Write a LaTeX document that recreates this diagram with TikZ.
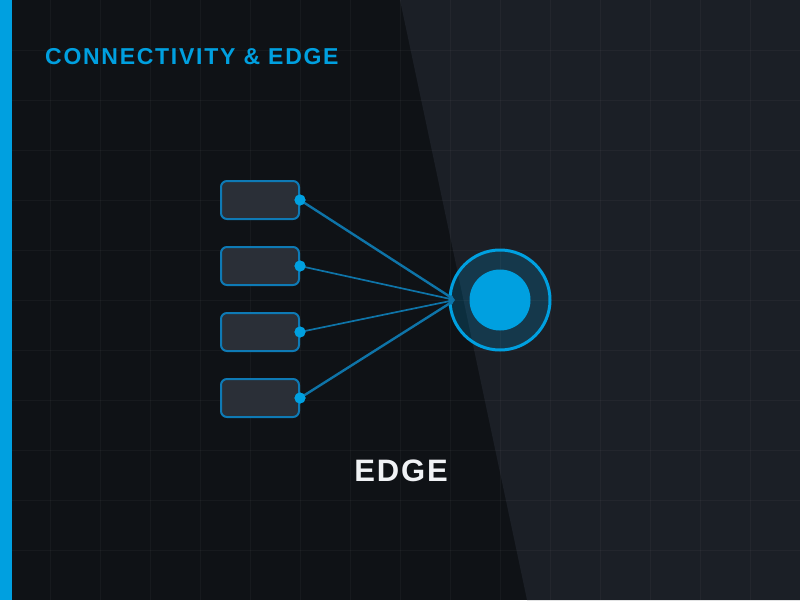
\documentclass[tikz,border=0pt]{standalone}
\usepackage{fontspec}
\setmainfont{Liberation Sans}
\usetikzlibrary{arrows.meta}
\definecolor{bgleft}{HTML}{0F1216}
\definecolor{bgright}{HTML}{1B1F26}
\definecolor{accent}{HTML}{00A0E0}
\definecolor{boxfill}{HTML}{2A2F37}
\definecolor{boxline}{HTML}{0E7AB5}
\definecolor{wire}{HTML}{0E74A8}
\definecolor{edgetext}{HTML}{F0F2F5}
\tikzset{
  srcbox/.style={draw=boxline, line width=2pt, fill=boxfill, rounded corners=6pt, minimum width=78pt, minimum height=38pt, inner sep=0pt},
  port/.style={circle, fill=accent, inner sep=0pt, minimum size=11pt},
  wireline/.style={draw=wire, line width=#1, -{Latex[length=5pt,width=5pt]}},
}
\begin{document}
\begin{tikzpicture}[x=1pt,y=-1pt]
\useasboundingbox (0,0) rectangle (800,600);
\fill[bgleft] (0,0) rectangle (800,600);
\fill[bgright] (400,0) -- (800,0) -- (800,600) -- (527,600) -- cycle;
\foreach \g in {50,100,...,750} \draw[white, opacity=0.035, line width=1pt] (\g,0) -- (\g,600);
\foreach \g in {50,100,...,550} \draw[white, opacity=0.035, line width=1pt] (0,\g) -- (800,\g);
\fill[accent] (0,0) rectangle (12,600);
\node[anchor=base west, inner sep=0pt, text=accent, font=\fontsize{23}{27}\selectfont\bfseries\addfontfeatures{LetterSpace=7.5}] (title) at (45,64) {CONNECTIVITY \& EDGE};
% edge node
\node[circle, draw=accent, line width=3pt, fill=accent, fill opacity=0.2, draw opacity=1, minimum size=100pt, inner sep=0pt] (ring) at (500,300) {};
\node[circle, fill=accent, minimum size=61pt, inner sep=0pt] (core) at (500,300) {};
\coordinate (hub) at (455,300);
% sources
\foreach \i/\y in {1/200,2/266,3/332,4/398} {
  \node[srcbox] (b\i) at (260,\y) {};
  \node[port] (p\i) at (b\i.east) {};
}
\draw[wireline=2.4pt] (p1.center) -- (hub);
\draw[wireline=1.7pt] (p2.center) -- (hub);
\draw[wireline=1.7pt] (p3.center) -- (hub);
\draw[wireline=2.4pt] (p4.center) -- (hub);
\foreach \i in {1,2,3,4} \node[port] at (p\i) {};
\node[anchor=base, inner sep=0pt, text=edgetext, font=\fontsize{31}{36}\selectfont\bfseries\addfontfeatures{LetterSpace=6}] (label) at (401,481) {EDGE};
\end{tikzpicture}
\end{document}
